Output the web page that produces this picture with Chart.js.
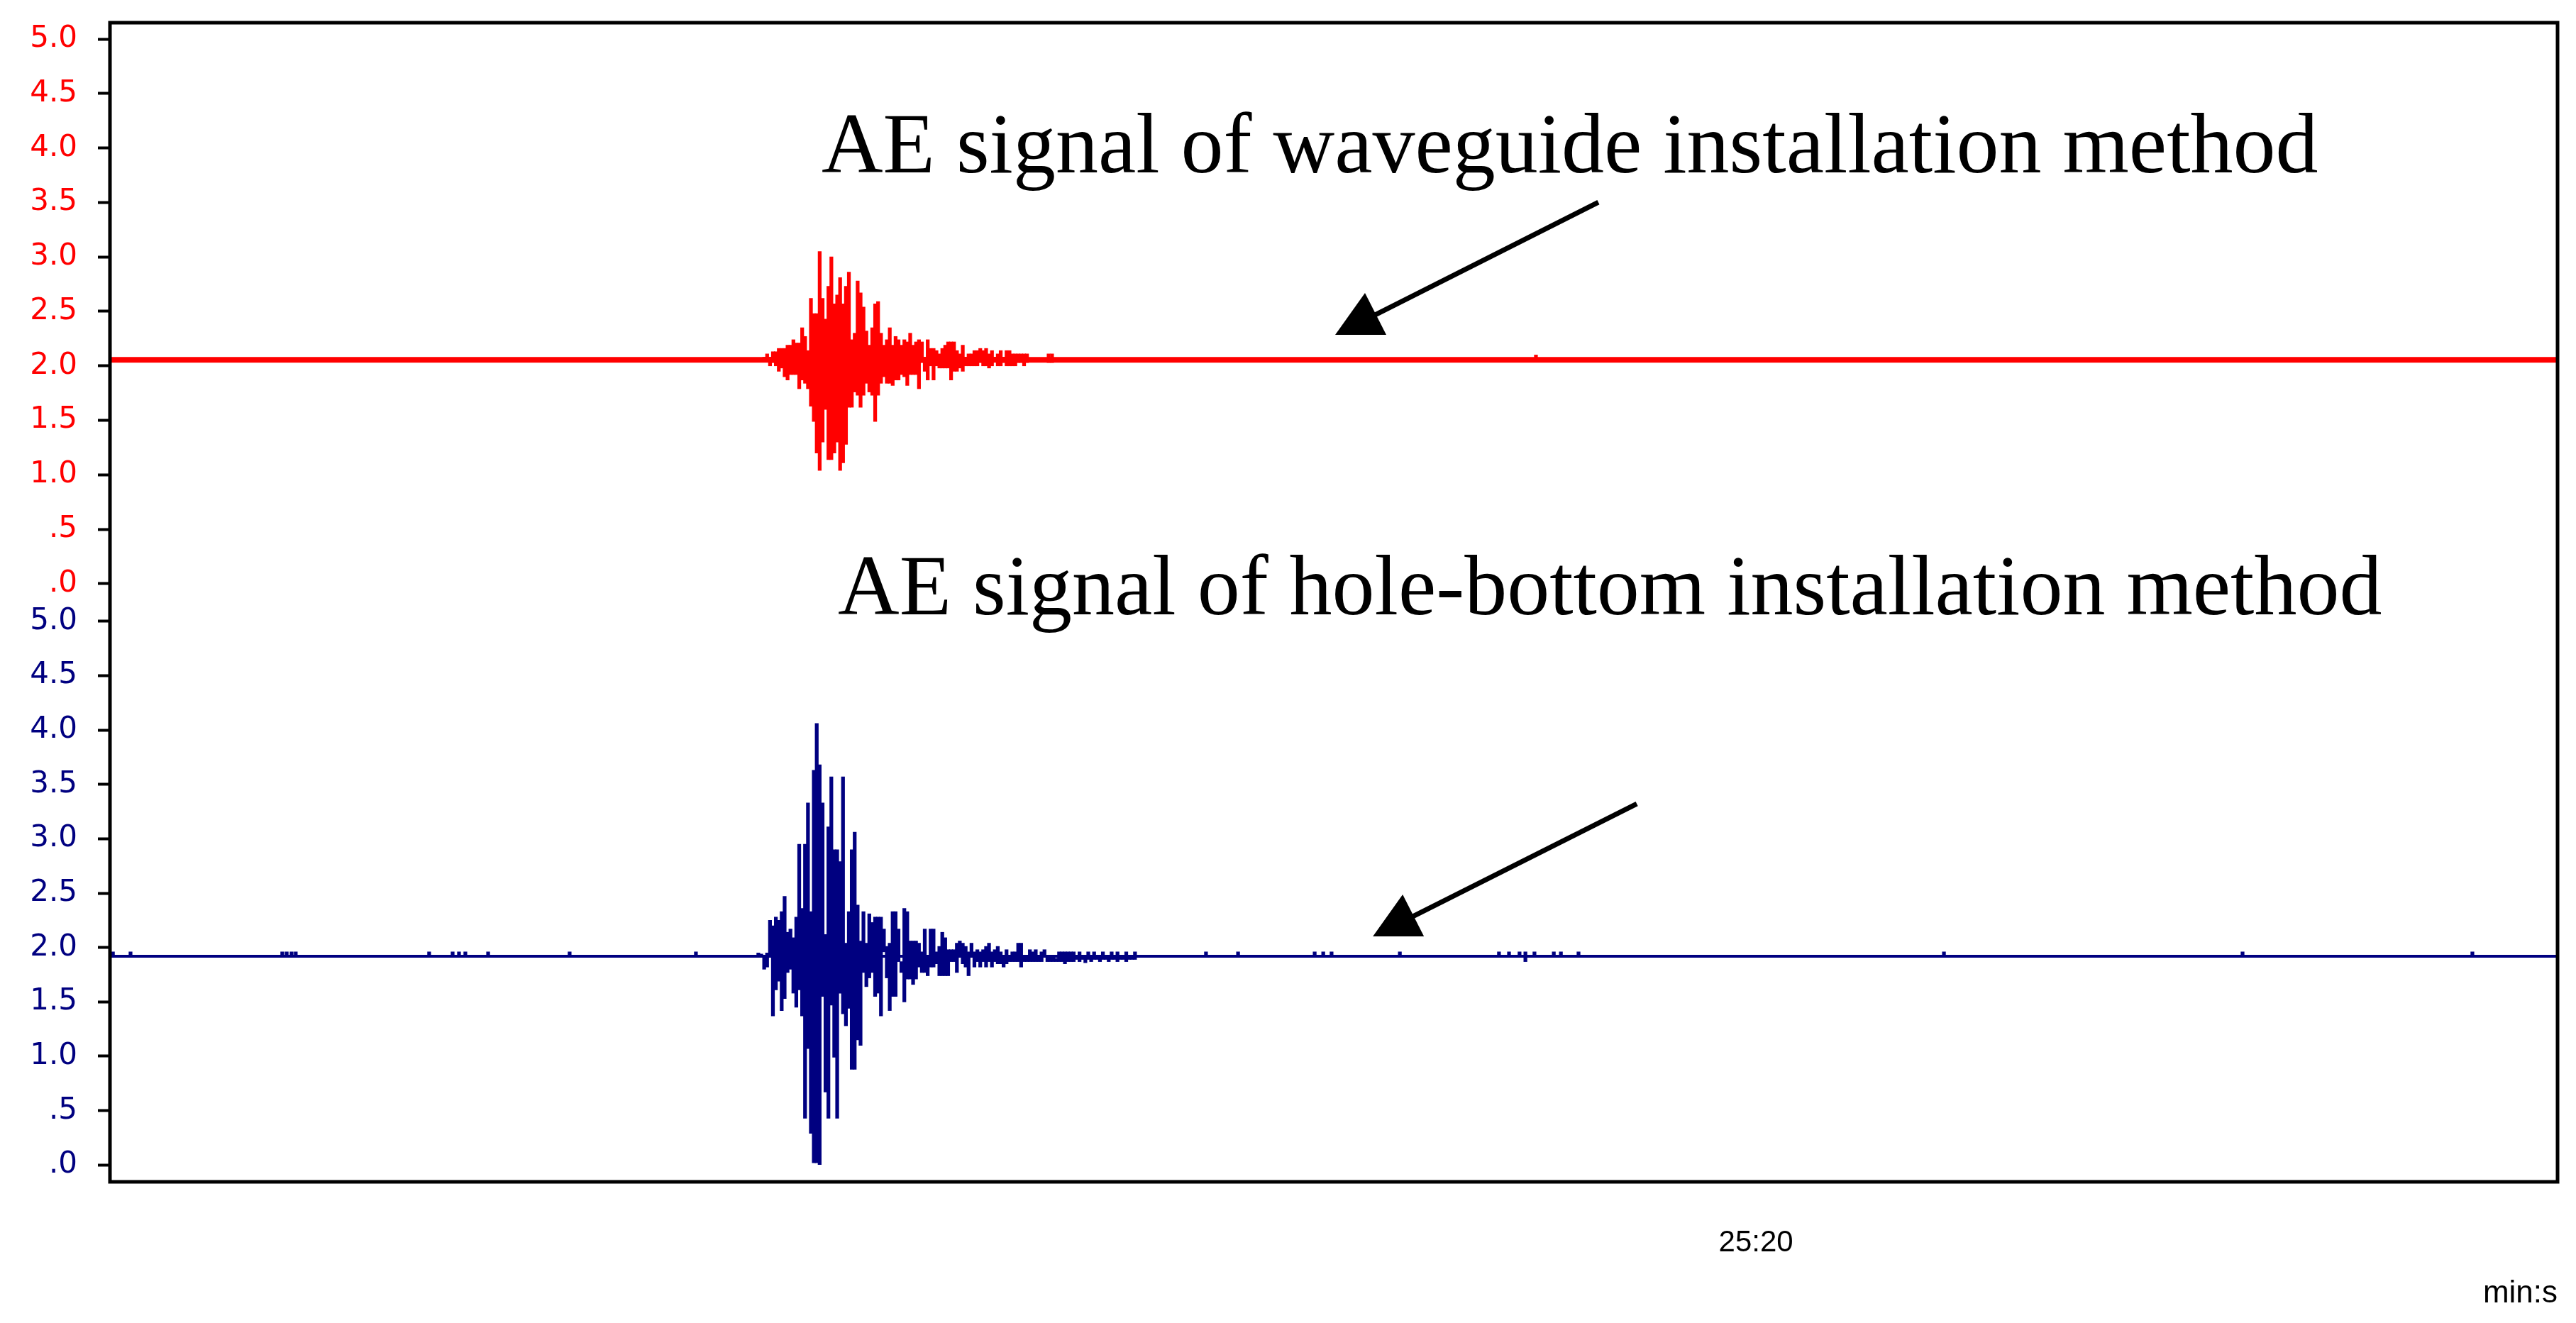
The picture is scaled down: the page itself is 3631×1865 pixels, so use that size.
<!DOCTYPE html>
<html>
<head>
<meta charset="utf-8">
<title>AE signals</title>
<script src="https://cdn.jsdelivr.net/npm/chart.js@4.4.1/dist/chart.umd.min.js"></script>
<style>
  html, body { margin: 0; padding: 0; background: #fff; }
  #wrap { width: 3631px; height: 1865px; }
</style>
</head>
<body>
<div id="wrap"><canvas id="ae-chart" width="3631" height="1865"></canvas></div>
<script>
// time axis in seconds, one tick at 25:20
const xMin = 1519.3275;
const xMax = 1520.3275;
const xTickValues = [1520];
const yTickValues = [0, 0.5, 1, 1.5, 2, 2.5, 3, 3.5, 4, 4.5, 5];

// resting level of each channel
const redBaseline = 2.056;
const blueBaseline = 1.919;

// burst envelopes, one column per sample: low / high
const sampleStep = 0.001193;

const redStart = 1519.5948;
const redHigh = [
  2.08, 2.11, 2.08, 2.13, 2.13, 2.16, 2.16, 2.16, 2.19, 2.19,
  2.24, 2.21, 2.21, 2.35, 2.27, 2.14, 2.62, 2.48, 2.48, 3.05,
  2.62, 2.43, 2.73, 3.00, 2.57, 2.65, 2.81, 2.57, 2.73, 2.86,
  2.24, 2.30, 2.78, 2.67, 2.54, 2.32, 2.19, 2.35, 2.57, 2.59,
  2.30, 2.19, 2.24, 2.35, 2.19, 2.27, 2.24, 2.19, 2.24, 2.22,
  2.30, 2.19, 2.22, 2.24, 2.22, 2.08, 2.24, 2.16, 2.16, 2.14,
  2.11, 2.16, 2.19, 2.22, 2.22, 2.22, 2.14, 2.11, 2.19, 2.08,
  2.11, 2.11, 2.14, 2.14, 2.16, 2.14, 2.16, 2.11, 2.14, 2.08,
  2.11, 2.14, 2.08, 2.14, 2.14, 2.11, 2.11, 2.11, 2.11, 2.11, 2.11
];
const redLow = [
  2.05, 2.05, 2.00, 2.03, 2.00, 1.95, 1.98, 1.90, 1.87, 1.92,
  1.92, 1.92, 1.79, 1.87, 1.84, 1.79, 1.63, 1.49, 1.20, 1.04,
  1.30, 1.60, 1.14, 1.14, 1.20, 1.30, 1.04, 1.11, 1.28, 1.62,
  1.62, 1.76, 1.73, 1.62, 1.73, 1.84, 1.76, 1.73, 1.49, 1.73,
  1.84, 1.90, 1.84, 1.84, 1.82, 1.87, 1.87, 1.92, 1.90, 1.82,
  1.92, 1.92, 1.92, 1.79, 2.03, 1.95, 1.87, 2.00, 1.87, 2.00,
  1.98, 1.98, 1.98, 1.98, 1.87, 1.95, 1.95, 1.98, 1.95, 2.00,
  2.00, 2.00, 2.00, 2.00, 2.03, 2.00, 2.00, 1.98, 2.00, 2.06,
  2.00, 2.00, 2.03, 2.00, 2.00, 2.00, 2.00, 2.03, 2.03, 2.00, 2.03
];

const blueStart = 1519.5924;
const blueHigh = [
  1.95, 1.94, 1.92, 1.95, 2.25, 2.20, 2.28, 2.25, 2.33, 2.47,
  2.14, 2.17, 2.09, 2.28, 2.95, 2.36, 2.95, 3.33, 2.33, 3.63,
  4.06, 3.68, 3.33, 2.12, 3.11, 3.57, 2.90, 2.90, 2.79, 3.57,
  2.04, 2.33, 2.90, 3.06, 2.39, 2.06, 2.33, 2.04, 2.31, 2.23,
  2.28, 2.28, 2.28, 2.17, 2.01, 2.04, 2.33, 2.33, 2.17, 1.87,
  2.36, 2.33, 2.06, 2.06, 2.06, 2.04, 1.96, 2.17, 1.93, 2.17,
  2.17, 1.96, 2.01, 2.14, 2.09, 1.98, 1.98, 1.98, 2.04, 2.06,
  2.04, 2.01, 1.96, 2.04, 1.96, 1.98, 1.96, 1.98, 2.01, 2.04,
  1.96, 1.98, 2.01, 1.96, 1.93, 1.98, 1.93, 1.96, 1.96, 2.04,
  2.04, 1.93, 1.93, 1.98, 1.96, 1.98, 1.93, 1.96, 1.98, 1.93,
  1.93, 1.93, 1.90, 1.96, 1.96, 1.96, 1.96, 1.96, 1.96, 1.93,
  1.96, 1.93, 1.93, 1.96, 1.93, 1.96, 1.93, 1.93, 1.96, 1.93,
  1.93, 1.96, 1.93, 1.96, 1.93, 1.93, 1.96, 1.93, 1.93, 1.96
];
const blueLow = [
  1.92, 1.92, 1.80, 1.82, 1.91, 1.37, 1.61, 1.69, 1.42, 1.53,
  1.77, 1.80, 1.58, 1.45, 1.61, 1.37, 0.43, 1.07, 0.29, 0.02,
  0.02, 0.00, 1.55, 0.67, 0.43, 1.47, 0.99, 0.43, 1.58, 1.39,
  1.28, 1.44, 0.88, 0.88, 1.15, 1.10, 1.77, 1.64, 1.72, 1.77,
  1.55, 1.58, 1.37, 1.96, 1.72, 1.42, 1.55, 1.55, 1.87, 1.77,
  1.50, 1.71, 1.71, 1.66, 1.71, 1.82, 1.77, 1.77, 1.74, 1.82,
  1.82, 1.85, 1.74, 1.74, 1.74, 1.74, 1.87, 1.87, 1.77, 1.93,
  1.85, 1.82, 1.74, 1.93, 1.82, 1.87, 1.82, 1.87, 1.82, 1.87,
  1.82, 1.87, 1.85, 1.85, 1.82, 1.85, 1.87, 1.87, 1.87, 1.87,
  1.82, 1.87, 1.87, 1.87, 1.87, 1.87, 1.87, 1.87, 1.93, 1.87,
  1.87, 1.87, 1.87, 1.87, 1.87, 1.85, 1.87, 1.87, 1.87, 1.89,
  1.87, 1.89, 1.86, 1.89, 1.87, 1.89, 1.89, 1.87, 1.89, 1.89,
  1.87, 1.89, 1.89, 1.87, 1.89, 1.89, 1.87, 1.89, 1.89, 1.89
];

// small isolated pulses on the baselines
const redPulseTimes = [1519.7110, 1519.7124, 1519.9101];
const redPulseLow = [2.03, 2.03, 2.05];
const redPulseHigh = [2.11, 2.11, 2.10];

const bluePulseTimes = [
  1519.3287, 1519.3359, 1519.3979, 1519.3997, 1519.4017, 1519.4034,
  1519.4579, 1519.4675, 1519.4701, 1519.4727, 1519.4820, 1519.5153,
  1519.5669, 1519.7753, 1519.7884, 1519.8197, 1519.8232, 1519.8266,
  1519.8545, 1519.8950, 1519.8991, 1519.9034, 1519.9058, 1519.9095,
  1519.9174, 1519.9203, 1519.9275, 1520.0768, 1520.1988, 1520.2927
];
const bluePulseLow = [
  1.92, 1.92, 1.92, 1.92, 1.92, 1.92, 1.92, 1.92, 1.92, 1.92,
  1.92, 1.92, 1.92, 1.92, 1.92, 1.92, 1.92, 1.92, 1.92, 1.92,
  1.92, 1.92, 1.87, 1.92, 1.92, 1.92, 1.92, 1.92, 1.92, 1.92
];
const bluePulseHigh = [
  1.96, 1.96, 1.96, 1.96, 1.96, 1.96, 1.96, 1.96, 1.96, 1.96,
  1.96, 1.96, 1.96, 1.96, 1.96, 1.96, 1.96, 1.96, 1.96, 1.96,
  1.96, 1.96, 1.96, 1.96, 1.96, 1.96, 1.96, 1.96, 1.96, 1.96
];

// annotation texts and arrows, placed in data coordinates of each panel
const notes = [
  { text: 'AE signal of waveguide installation method', axis: 'yTop', x: 1519.6182, y: 3.775 },
  { text: 'AE signal of hole-bottom installation method', axis: 'yBottom', x: 1519.6249, y: 5.063 }
];
const arrows = [
  { axis: 'yTop', from: [1519.9356, 3.502], to: [1519.8391, 2.408] },
  { axis: 'yBottom', from: [1519.9513, 3.322], to: [1519.8545, 2.226] }
];

const RED = '#ff0000';
const NAVY = '#000080';

function burstData(start, low, high) {
  return low.map((lo, i) => ({ x: start + i * sampleStep, y: [lo, high[i]] }));
}
function pulseData(times, low, high) {
  return times.map((t, i) => ({ x: t, y: [low[i], high[i]] }));
}
function levelLine(v) {
  return [{ x: xMin, y: v }, { x: xMax, y: v }];
}
function fmtVolt(v) {
  return v.toFixed(1).replace(/^0/, '');
}
function fmtTime(v) {
  const m = Math.floor(v / 60);
  const s = Math.round(v - m * 60);
  return m + ':' + String(s).padStart(2, '0');
}

const barStyle = { type: 'bar', grouped: false, barThickness: 4.6, borderWidth: 0 };

function panelAxis(range, color, weight) {
  return {
    type: 'linear',
    position: 'left',
    stack: 'panels',
    stackWeight: 1,
    weight: weight,
    min: range[0],
    max: range[1],
    afterBuildTicks: axis => { axis.ticks = yTickValues.map(v => ({ value: v })); },
    afterFit: axis => {
      axis.width = 155;
      axis.paddingTop = 0;
      axis.paddingBottom = 0;
    },
    ticks: {
      color: color,
      padding: 29,
      autoSkip: false,
      font: { family: 'DejaVu Sans', size: 42 },
      callback: v => fmtVolt(v)
    },
    grid: { display: true, drawOnChartArea: false, drawTicks: true, tickLength: 17, tickWidth: 4, tickColor: '#000' },
    border: { display: false }
  };
}

const framePlugin = {
  id: 'frame',
  afterDraw(chart) {
    const { ctx, chartArea: a } = chart;
    ctx.save();
    ctx.strokeStyle = '#000';
    ctx.lineWidth = 5;
    ctx.strokeRect(a.left, a.top, a.right - a.left, a.bottom - a.top);
    ctx.restore();
  }
};

const notePlugin = {
  id: 'notes',
  afterDraw(chart) {
    const { ctx } = chart;
    const xs = chart.scales.x;
    ctx.save();
    ctx.fillStyle = '#000';
    ctx.font = '120px "Liberation Serif", "Times New Roman", serif';
    ctx.textAlign = 'left';
    ctx.textBaseline = 'alphabetic';
    notes.forEach(n => {
      ctx.fillText(n.text, xs.getPixelForValue(n.x), chart.scales[n.axis].getPixelForValue(n.y));
    });
    ctx.strokeStyle = '#000';
    ctx.lineWidth = 7;
    arrows.forEach(a => {
      const ys = chart.scales[a.axis];
      const x0 = xs.getPixelForValue(a.from[0]), y0 = ys.getPixelForValue(a.from[1]);
      const x1 = xs.getPixelForValue(a.to[0]), y1 = ys.getPixelForValue(a.to[1]);
      ctx.beginPath();
      ctx.moveTo(x0, y0);
      ctx.lineTo(x1, y1);
      ctx.stroke();
      ctx.beginPath();
      ctx.moveTo(x1 + 4, y1 - 40);
      ctx.lineTo(x1 + 34, y1 + 19);
      ctx.lineTo(x1 - 38, y1 + 19);
      ctx.closePath();
      ctx.fill();
    });
    ctx.restore();
  }
};

new Chart(document.getElementById('ae-chart'), {
  type: 'bar',
  data: {
    datasets: [
      { ...barStyle, label: 'waveguide', xAxisID: 'x', yAxisID: 'yTop', backgroundColor: RED,
        data: burstData(redStart, redLow, redHigh).concat(pulseData(redPulseTimes, redPulseLow, redPulseHigh)) },
      { type: 'line', label: 'waveguide level', xAxisID: 'x', yAxisID: 'yTop', data: levelLine(redBaseline),
        borderColor: RED, borderWidth: 8, pointRadius: 0 },
      { ...barStyle, label: 'hole-bottom', xAxisID: 'x', yAxisID: 'yBottom', backgroundColor: NAVY,
        data: burstData(blueStart, blueLow, blueHigh).concat(pulseData(bluePulseTimes, bluePulseLow, bluePulseHigh)) },
      { type: 'line', label: 'hole-bottom level', xAxisID: 'x', yAxisID: 'yBottom', data: levelLine(blueBaseline),
        borderColor: NAVY, borderWidth: 4, pointRadius: 0 }
    ]
  },
  options: {
    responsive: false,
    animation: false,
    devicePixelRatio: 1,
    layout: { padding: { top: 32, right: 26, bottom: 0, left: 0 } },
    plugins: { legend: { display: false }, tooltip: { enabled: false } },
    scales: {
      x: {
        type: 'linear',
        position: 'bottom',
        min: xMin,
        max: xMax,
        offset: false,
        afterBuildTicks: axis => { axis.ticks = xTickValues.map(v => ({ value: v })); },
        afterFit: axis => {
          axis.height = 199;
          axis.paddingLeft = 0;
          axis.paddingRight = 0;
        },
        ticks: {
          color: '#000',
          padding: 61,
          maxRotation: 0,
          font: { family: 'Liberation Sans', size: 42 },
          callback: v => fmtTime(v)
        },
        grid: { display: false, drawTicks: false },
        border: { display: false },
        title: {
          display: true,
          text: 'min:s',
          align: 'end',
          color: '#000',
          font: { family: 'Liberation Sans', size: 44 },
          padding: { top: 0, bottom: 15 }
        }
      },
      yTop: panelAxis([-0.17, 5.15], RED, 1),
      yBottom: panelAxis([-0.155, 5.175], NAVY, 0)
    }
  },
  plugins: [framePlugin, notePlugin]
});
</script>
</body>
</html>
